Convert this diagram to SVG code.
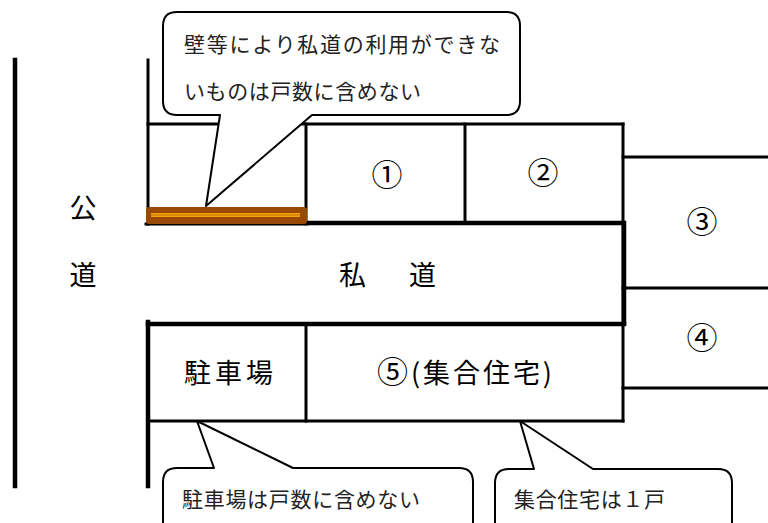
<svg xmlns="http://www.w3.org/2000/svg" width="768" height="523" viewBox="0 0 768 523">
<style>
.ln{stroke:#000;stroke-width:3;fill:none;stroke-linecap:square}
.th{stroke:#000;stroke-width:4.5;fill:none;stroke-linecap:square}
.co{fill:#fff;stroke:#000;stroke-width:2;stroke-linejoin:round}
.t{font-family:"Noto Sans CJK JP","Noto Sans",sans-serif;fill:#000}
.s{font-size:21px;fill:#222}
.l{font-size:27px}
.n{font-size:31px;text-anchor:middle}
</style>
<rect width="768" height="523" fill="#fff"/>
<g id="plan">
<line class="th" x1="15" y1="60" x2="15" y2="486"/>
<line class="ln" x1="148" y1="60" x2="148" y2="224"/>
<line class="ln" x1="148" y1="124" x2="623" y2="124"/>
<line class="ln" x1="306" y1="124" x2="306" y2="223"/>
<line class="ln" x1="465" y1="124" x2="465" y2="223"/>
<line class="th" x1="306" y1="223" x2="623" y2="223"/>
<line class="ln" x1="146" y1="224" x2="307" y2="224"/>
<line class="ln" x1="623" y1="124" x2="623" y2="421"/>
<line class="th" x1="624" y1="223" x2="624" y2="323"/>
<line class="ln" x1="623" y1="157" x2="768" y2="157"/>
<line class="ln" x1="623" y1="288" x2="768" y2="288"/>
<line class="ln" x1="623" y1="388" x2="768" y2="388"/>
<line class="th" x1="148" y1="324" x2="624" y2="324"/>
<line class="th" x1="148" y1="322" x2="148" y2="486"/>
<line class="ln" x1="306" y1="324" x2="306" y2="421"/>
<line class="ln" x1="148" y1="421" x2="623" y2="421"/>
</g>
<g id="wall">
<rect x="146" y="207" width="161" height="17" rx="3" fill="#9A4A00"/>
<line x1="151" y1="215" x2="300" y2="215" stroke="#F2A400" stroke-width="4"/>
<line x1="151" y1="215" x2="300" y2="215" stroke="#C46E00" stroke-width="1.2"/>
</g>
<g id="public-road">
<text class="t l" x="83" y="218" text-anchor="middle">公</text>
<text class="t l" x="83" y="285" text-anchor="middle">道</text>
</g>
<g id="private-road">
<text class="t l" x="339" y="285" textLength="97" lengthAdjust="spacing">私　道</text>
</g>
<g id="lot1"><text class="t n" x="387" y="186">①</text></g>
<g id="lot2"><text class="t n" x="543" y="184">②</text></g>
<g id="lot3"><text class="t n" x="702" y="233">③</text></g>
<g id="lot4"><text class="t n" x="702" y="349">④</text></g>
<g id="parking"><text class="t l" x="184" y="383" textLength="89" lengthAdjust="spacing">駐車場</text></g>
<g id="lot5"><text class="t l" x="377" y="383" textLength="175" lengthAdjust="spacing"><tspan font-size="31">⑤</tspan>(集合住宅)</text></g>
<g id="connectors">
<g id="callout-wall">
<path class="co" d="M177,12 H506 Q520,12 520,26 V101 Q520,115 506,115 H312 L206,206 L220,115 H177 Q163,115 163,101 V26 Q163,12 177,12 Z"/>
<text class="t s" x="184" y="52" textLength="316" lengthAdjust="spacing">壁等により私道の利用ができな</text>
<text class="t s" x="184" y="99" textLength="237" lengthAdjust="spacing">いものは戸数に含めない</text>
</g>
<g id="callout-parking">
<path class="co" d="M177,468 H214 L197,421 L293,468 H459 Q473,468 473,482 V540 H163 V482 Q163,468 177,468 Z"/>
<text class="t s" x="182" y="507" textLength="238" lengthAdjust="spacing">駐車場は戸数に含めない</text>
</g>
<g id="callout-apartment">
<path class="co" d="M509,469 H534 L520,421 L593,469 H718 Q732,469 732,483 V540 H495 V483 Q495,469 509,469 Z"/>
<text class="t s" x="514" y="507" textLength="151" lengthAdjust="spacing">集合住宅は１戸</text>
</g>
</g>
</svg>
